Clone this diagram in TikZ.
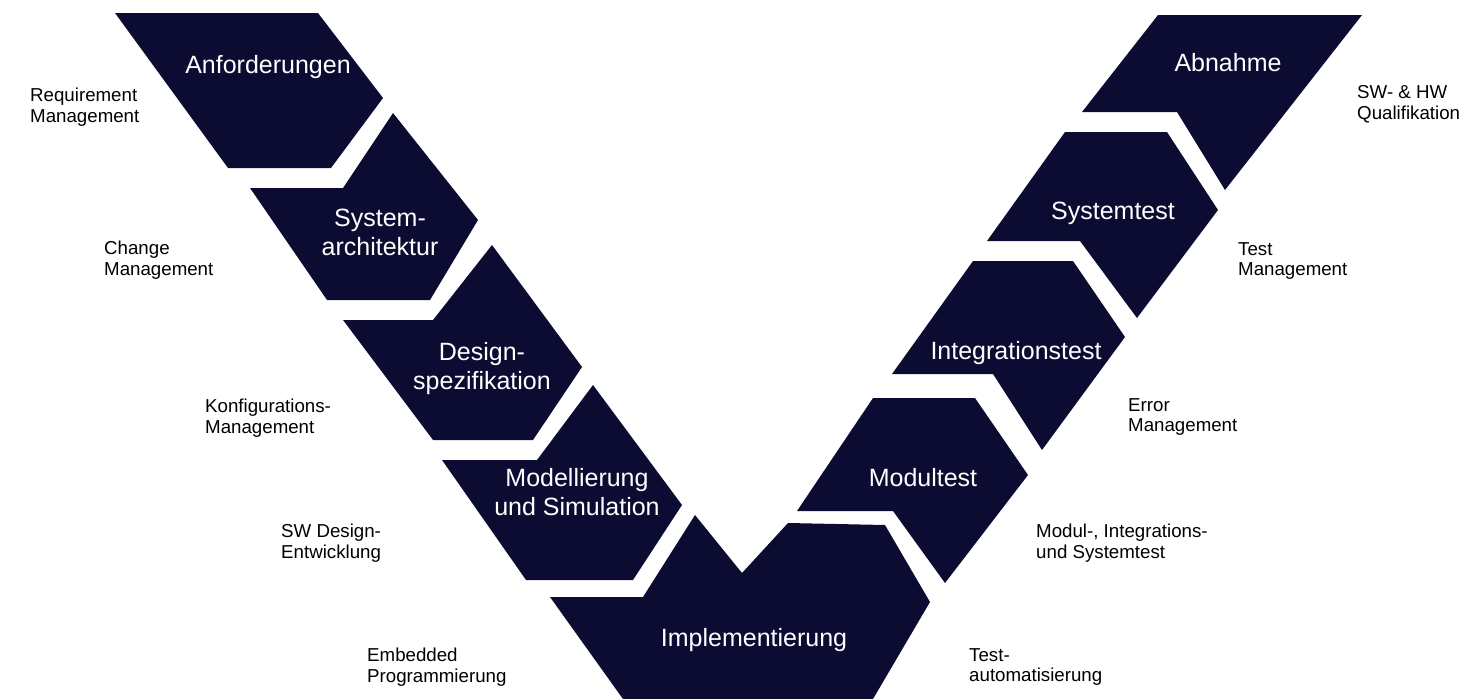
\documentclass[tikz,border=0pt]{standalone}
\usepackage{fontspec}
\setmainfont{Liberation Sans}
\usepackage{tikz}
\usetikzlibrary{positioning}
\definecolor{vnavy}{RGB}{12,12,50}
\tikzset{
  block/.style={
    fill=vnavy
  },
  phase/.style={
    text=white,
    align=center,
    inner sep=0pt,
    font=\fontsize{25}{29}\selectfont
  },
  aspect/.style={
    text=black,
    align=left,
    anchor=west,
    inner sep=0pt,
    font=\fontsize{18.7}{20.5}\selectfont
  }
}
\begin{document}
\begin{tikzpicture}[x=1pt,y=-1pt]
    \useasboundingbox (0,0) rectangle (1484,699);
    % left arm
    \fill[block] (115,13) -- (318,13) -- (383,98) -- (331,168) -- (228,168) -- cycle;
    \fill[block] (250,188) -- (343,188) -- (393,113) -- (478,220) -- (430,300) -- (327,300) -- cycle;
    \fill[block] (343,320) -- (433,320) -- (492,245) -- (582,367) -- (533,440) -- (433,440) -- cycle;
    \fill[block] (442,460) -- (537,460) -- (593,385) -- (682,505) -- (633,580) -- (526,580) -- cycle;
    % bottom
    \fill[block] (550,597) -- (643,597) -- (695,515) -- (742,573) -- (788,523) -- (885,525) -- (930,602) -- (873,699) -- (623,699) -- cycle;
    % right arm
    \fill[block] (873,398) -- (975,398) -- (1028,475) -- (945,583) -- (893,511) -- (797,511) -- cycle;
    \fill[block] (973,261) -- (1073,261) -- (1125,337) -- (1042,450) -- (993,374) -- (892,374) -- cycle;
    \fill[block] (1065,132) -- (1167,132) -- (1218,210) -- (1137,318) -- (1080,241) -- (987,241) -- cycle;
    \fill[block] (1158,15) -- (1362,15) -- (1225,190) -- (1177,112) -- (1082,112) -- cycle;
    % phases
    \node[phase] (anf) at (268,67) {Anforderungen};
    \node[phase] (sysarch) at (380,232) {System-\\architektur};
    \node[phase] (design) at (482,369) {Design-\\spezifikation};
    \node[phase] (modell) at (577,492) {Modellierung\\und Simulation};
    \node[phase] (impl) at (754,640) {Implementierung};
    \node[phase] (modul) at (923,478) {Modultest};
    \node[phase] (integ) at (1016,353) {Integrationstest};
    \node[phase] (systest) at (1113,213) {Systemtest};
    \node[phase] (abn) at (1228,63) {Abnahme};
    % aspects
    \node[aspect] (reqm) at (30,107) {Requirement\\Management};
    \node[aspect] (chgm) at (104,260) {Change\\Management};
    \node[aspect] (konfm) at (205,418) {Konfigurations-\\Management};
    \node[aspect] (swdev) at (281,543) {SW Design-\\Entwicklung};
    \node[aspect] (embp) at (367,667) {Embedded\\Programmierung};
    \node[aspect] (swhw) at (1357,104) {SW- \& HW\\Qualifikation};
    \node[aspect] (testm) at (1238,261) {Test\\Management};
    \node[aspect] (errm) at (1128,417) {Error\\Management};
    \node[aspect] (mitest) at (1036,543) {Modul-, Integrations-\\und Systemtest};
    \node[aspect] (testauto) at (969,667) {Test-\\automatisierung};
\end{tikzpicture}
\end{document}
